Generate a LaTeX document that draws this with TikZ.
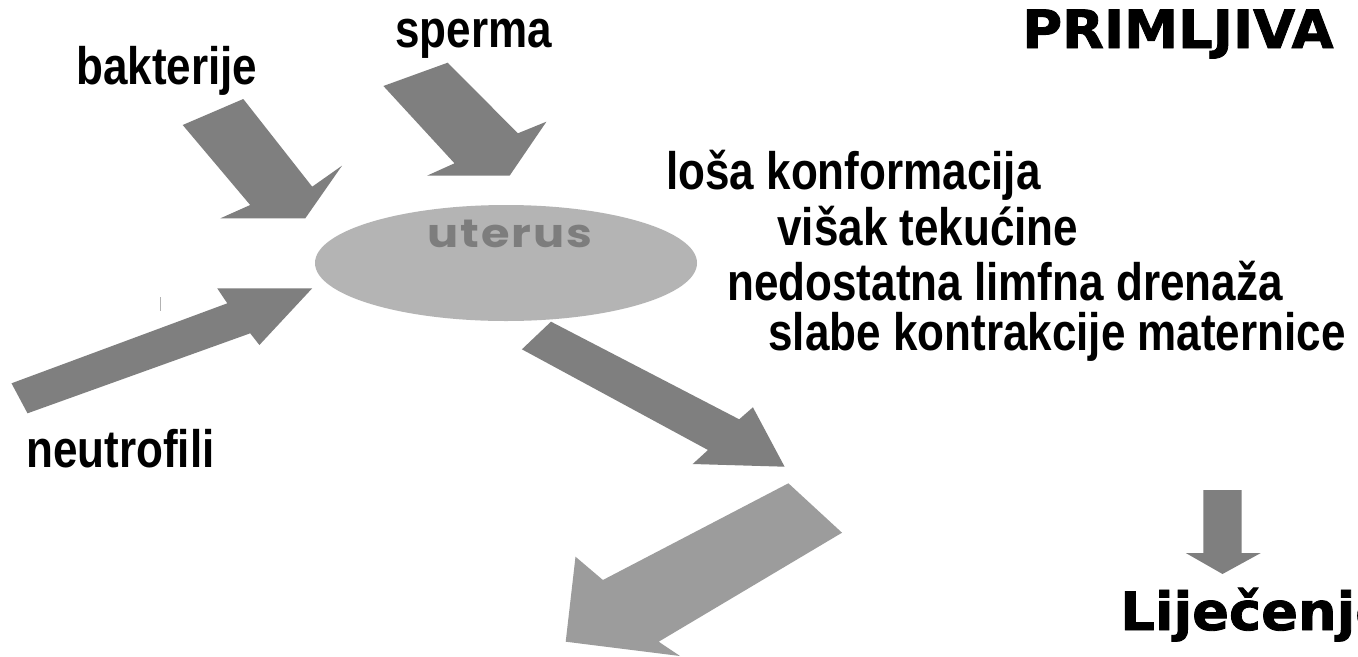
\documentclass[tikz,border=0pt]{standalone}
\usepackage{fontspec}
\newfontfamily\narrowfont[FakeStretch=0.835]{Liberation Sans}
\newfontfamily\blackfont[FakeStretch=1.03,FakeBold=1.6]{DejaVu Sans}
\newfontfamily\geofont[FakeStretch=1.17,LetterSpace=5]{Poppins}
\definecolor{arrdark}{HTML}{7F7F7F}
\definecolor{arrlight}{HTML}{9C9C9C}
\definecolor{uterusfill}{HTML}{B4B4B4}
\definecolor{uterustext}{HTML}{7D7D7D}
\tikzset{
  darkarrow/.style={fill=arrdark, draw=none},
  lightarrow/.style={fill=arrlight, draw=none},
  label/.style={inner sep=0pt, anchor=base west, font=\narrowfont\bfseries\fontsize{30}{32}\selectfont},
  bigtitle/.style={inner sep=0pt, anchor=base west, font=\blackfont\bfseries\fontsize{30}{32}\selectfont},
}
\begin{document}
\begin{tikzpicture}[x=0.02cm, y=-0.02cm]
\clip (0,0) rectangle (1358,656);
\fill[white] (0,0) rectangle (1358,656);
% uterus
\fill[uterusfill] (506,263) ellipse [x radius=191, y radius=58];
\node[inner sep=0pt, anchor=base, text=uterustext, font=\geofont\bfseries\fontsize{22.5}{24}\selectfont] (uterus) at (510,247) {uterus};
% arrows
\fill[darkarrow] (182.7,125) -- (250.2,205) -- (220.4,218.3) -- (305.3,218.3) -- (342,165.7) -- (312.2,186.7) -- (243.3,99) -- cycle;
\fill[darkarrow] (383.4,86) -- (454.5,163.3) -- (427,175.7) -- (509.6,175.7) -- (546.4,121.7) -- (517.9,133.3) -- (447.7,62.7) -- cycle;
\fill[darkarrow] (11.5,383.3) -- (227.3,303.3) -- (217.2,288.3) -- (312.2,288.3) -- (259.4,345) -- (250.2,333.3) -- (27.5,413.3) -- cycle;
\fill[darkarrow] (551,321.7) -- (739.2,419.3) -- (752.9,407.3) -- (784.6,466.7) -- (692.7,464) -- (708,450) -- (521.9,349.3) -- cycle;
\fill[lightarrow] (788.4,483.3) -- (602.9,580) -- (575.5,556.7) -- (565.7,641.7) -- (680,656) -- (658.7,641.7) -- (842,532.7) -- cycle;
\fill[darkarrow] (1203.3,490) -- (1241.6,490) -- (1241.6,553) -- (1260.8,553) -- (1222.5,574) -- (1185.8,553) -- (1203.3,553) -- cycle;
\draw[gray!60, line width=0.8pt] (160.5,297) -- (160.5,311);
% labels
\node[label] (bakterije) at (76,84) {bakterije};
\node[label] (sperma) at (395,47) {sperma};
\node[bigtitle] (primljiva) at (1022,48) {PRIMLJIVA};
\node[label] (losa) at (666,189) {loša konformacija};
\node[label] (visak) at (777,245) {višak tekućine};
\node[label] (limfna) at (727,300) {nedostatna limfna drenaža};
\node[label] (slabe) at (768,350) {slabe kontrakcije maternice};
\node[label] (neutrofili) at (26,467) {neutrofili};
\node[bigtitle] (lijecenje) at (1120,630) {Liječenje};
\end{tikzpicture}
\end{document}
